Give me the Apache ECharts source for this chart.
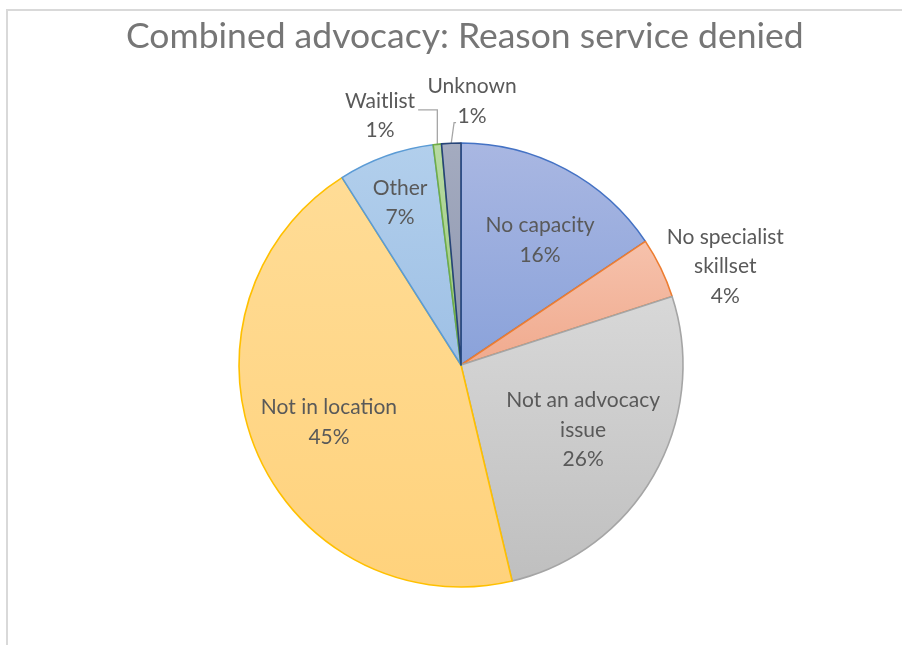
<!DOCTYPE html>
<html>
<head>
<meta charset="utf-8">
<script src="https://cdn.jsdelivr.net/npm/echarts@6/dist/echarts.min.js"></script>
<style>
  html, body { margin: 0; padding: 0; background: #ffffff; }
  #chart { width: 902px; height: 645px; }
</style>
</head>
<body>
<div id="chart"></div>
<script>
// Reasons service was denied (combined advocacy), share of all denials in %
const categories = [
  'No capacity',
  'No specialist skillset',
  'Not an advocacy issue',
  'Not in location',
  'Other',
  'Waitlist',
  'Unknown'
];
const shares = [15.6, 4.4, 26.3, 44.7, 7.0, 0.6, 1.4];

// How each label wraps onto lines
const wrapped = {
  'No specialist skillset': 'No specialist\nskillset',
  'Not an advocacy issue': 'Not an advocacy\nissue'
};

// Slice styling: [top colour, bottom colour, outline]
const sliceStyles = [
  ['#a9b7e2', '#8aa2da', '#4472c4'],
  ['#f6c2ac', '#f0aa8e', '#ed7d31'],
  ['#d8d8d8', '#bfbfbf', '#a5a5a5'],
  ['#ffdc96', '#ffd27c', '#ffc000'],
  ['#b2cfec', '#9ec0e5', '#5b9bd5'],
  ['#b7daa2', '#9dca80', '#70ad47'],
  ['#a4abc0', '#8e97ae', '#264478']
];

// Label anchors as [radius factor, angle clockwise from 12 o'clock]
const labelSpots = [
  [0.666, 32.3],
  [1.27, 69.6],
  [0.623, 118],
  [0.648, 246.6],
  [0.78, 339.4],
  [1.18, 342],
  [1.19, 2.4]
];
const outsideLabels = ['No specialist skillset', 'Waitlist', 'Unknown'];
const leaderLabels = ['Waitlist', 'Unknown'];

const CX = 461, CY = 365, R = 222;
const total = shares.reduce((a, b) => a + b, 0);

function polar(rf, deg) {
  const a = deg * Math.PI / 180;
  return [CX + rf * R * Math.sin(a), CY - rf * R * Math.cos(a)];
}
function midAngle(i) {
  let before = 0;
  for (let k = 0; k < i; k++) before += shares[k];
  return (before + shares[i] / 2) / total * 360;
}

const data = categories.map((name, i) => {
  const s = sliceStyles[i];
  const outside = outsideLabels.includes(name);
  return {
    name: name,
    value: shares[i],
    itemStyle: {
      color: new echarts.graphic.LinearGradient(0, 0, 0, 1, [
        { offset: 0, color: s[0] },
        { offset: 1, color: s[1] }
      ]),
      borderColor: s[2],
      borderWidth: 1.6
    },
    label: { position: outside ? 'outside' : 'inside' },
    labelLine: { show: leaderLabels.includes(name) }
  };
});

const chart = echarts.init(document.getElementById('chart'), null, { renderer: 'canvas' });

chart.setOption({
  animation: false,
  backgroundColor: '#ffffff',
  title: {
    text: 'Combined advocacy: Reason service denied',
    left: 121,
    top: 14,
    textStyle: {
      fontFamily: 'Lato, "Open Sans", sans-serif',
      fontSize: 35.5,
      fontWeight: 'normal',
      color: '#767676'
    }
  },
  graphic: [{
    type: 'rect',
    shape: { x: 7, y: 10, width: 1000, height: 1000 },
    style: { fill: 'none', stroke: '#d9d9d9', lineWidth: 2 },
    silent: true
  }],
  series: [{
    type: 'pie',
    center: [CX, CY],
    radius: R,
    startAngle: 90,
    clockwise: true,
    avoidLabelOverlap: false,
    data: data,
    label: {
      show: true,
      formatter: p => (wrapped[p.name] || p.name) + '\n' + Math.round(p.value) + '%',
      fontFamily: 'Lato, "Open Sans", sans-serif',
      fontSize: 21,
      lineHeight: 29.5,
      color: '#595959',
      align: 'center'
    },
    labelLine: {
      length: 10,
      length2: 5,
      lineStyle: { color: '#a6a6a6', width: 1.3 }
    },
    emphasis: { disabled: true },
    labelLayout: function (params) {
      const i = params.dataIndex;
      const spot = labelSpots[i];
      const pos = polar(spot[0], spot[1]);
      const out = { x: pos[0], y: pos[1], align: 'center', verticalAlign: 'middle' };
      const name = categories[i];
      if (leaderLabels.includes(name)) {
        const edge = polar(1, midAngle(i));
        const h = params.labelRect.height;
        const w = params.labelRect.width;
        if (name === 'Waitlist') {
          const yLine = pos[1] - 6;
          out.labelLinePoints = [edge, [edge[0], yLine], [pos[0] + w / 2 + 3, yLine]];
        } else {
          const yLine = pos[1] + h / 2 - 8;
          const xEnd = pos[0] - 16;
          out.labelLinePoints = [edge, [xEnd - 2, yLine], [xEnd, yLine]];
        }
      }
      return out;
    }
  }]
});
</script>
</body>
</html>
